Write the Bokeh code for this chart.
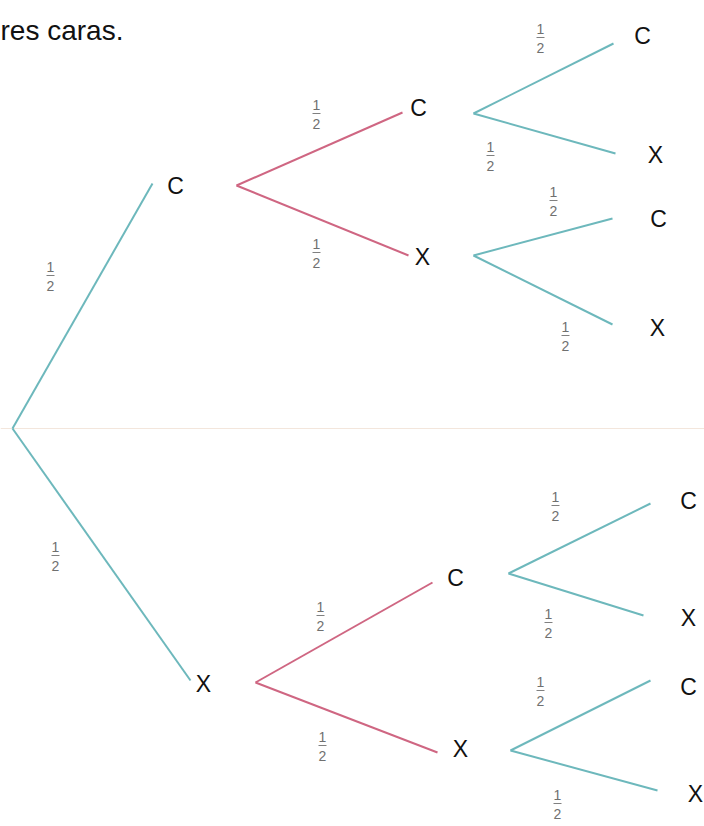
from bokeh.plotting import figure
from bokeh.models import ColumnDataSource, Range1d
from bokeh.core.properties import value
from bokeh.embed import file_html
from bokeh.resources import INLINE

# ---------------- data ----------------
title_text = "res caras."
outcomes = ["C", "X"]
# tree edges: parent path -> child path, probability numerator/denominator
edge_parent = ["", "",
               "C", "C", "X", "X",
               "CC", "CC", "CX", "CX", "XC", "XC", "XX", "XX"]
edge_child = ["C", "X",
              "CC", "CX", "XC", "XX",
              "CCC", "CCX", "CXC", "CXX", "XCC", "XCX", "XXC", "XXX"]
prob_num = [1, 1, 1, 1, 1, 1, 1, 1, 1, 1, 1, 1, 1, 1]
prob_den = [2, 2, 2, 2, 2, 2, 2, 2, 2, 2, 2, 2, 2, 2]

# ---------------- layout (screen-like coordinates) ----------------
label_pos = {
    "C": (175, 185), "X": (203, 683),
    "CC": (418, 107), "CX": (422, 256), "XC": (455, 577), "XX": (460, 748),
    "CCC": (642, 35), "CCX": (655, 154), "CXC": (658, 218), "CXX": (657, 327),
    "XCC": (688, 500), "XCX": (688, 617), "XXC": (688, 686), "XXX": (695, 793),
}
end_pos = {
    "C": (152, 183), "X": (190, 680),
    "CC": (402, 112), "CX": (408, 255), "XC": (432, 582), "XX": (437, 752),
    "CCC": (613, 43), "CCX": (615, 153), "CXC": (612, 218), "CXX": (612, 324),
    "XCC": (650, 503), "XCX": (643, 615), "XXC": (650, 680), "XXX": (657, 790),
}
start_pos = {
    "": (12, 428),
    "C": (236, 185), "X": (255, 682),
    "CC": (473, 113), "CX": (473, 255), "XC": (508, 573), "XX": (510, 750),
}
prob_pos = {
    "C": (50, 275), "X": (55, 555),
    "CC": (316, 113), "CX": (316, 252), "XC": (320, 615), "XX": (322, 745),
    "CCC": (540, 37), "CCX": (490, 155), "CXC": (553, 200), "CXX": (565, 335),
    "XCC": (555, 505), "XCX": (548, 622), "XXC": (540, 690), "XXX": (557, 803),
}

TEAL = "#6db8bc"
PINK = "#cf6682"

W, H = 704, 826
p = figure(width=W, height=H, output_backend="svg", toolbar_location=None,
           x_range=Range1d(0, W), y_range=Range1d(H, 0),
           min_border=0, outline_line_color=None, background_fill_color="white",
           border_fill_color="white")
p.axis.visible = False
p.grid.visible = False

# faint separator line
p.segment(x0=[0], y0=[428], x1=[704], y1=[428], line_color="#f3e6dc", line_width=1)

# branches
x0, y0, x1, y1, col = [], [], [], [], []
for par, ch in zip(edge_parent, edge_child):
    sx, sy = start_pos[par]
    ex, ey = end_pos[ch]
    x0.append(sx); y0.append(sy); x1.append(ex); y1.append(ey)
    col.append(PINK if len(ch) == 2 else TEAL)
p.segment(x0="x0", y0="y0", x1="x1", y1="y1", line_color="col", line_width=2,
          source=ColumnDataSource(dict(x0=x0, y0=y0, x1=x1, y1=y1, col=col)))

# node labels
lx = [label_pos[c][0] for c in edge_child]
ly = [label_pos[c][1] for c in edge_child]
lt = [c[-1] for c in edge_child]
p.text(x=lx, y=ly, text=lt, text_font=value("Liberation Sans"),
       text_font_size="23px", text_color="#111111",
       text_align="center", text_baseline="middle")

# probability fractions
px = [prob_pos[c][0] for c in edge_child]
py = [prob_pos[c][1] for c in edge_child]
p.text(x=px, y=[v - 9 for v in py], text=[str(n) for n in prob_num],
       text_font=value("Liberation Sans"), text_font_size="14px",
       text_color="#707070", text_align="center", text_baseline="middle")
p.text(x=px, y=[v + 10 for v in py], text=[str(d) for d in prob_den],
       text_font=value("Liberation Sans"), text_font_size="14px",
       text_color="#707070", text_align="center", text_baseline="middle")
p.segment(x0=[v - 4 for v in px], y0=py, x1=[v + 4 for v in px], y1=py,
          line_color="#808080", line_width=1)

# title fragment
p.text(x=[0], y=[30], text=[title_text], text_font=value("Liberation Sans"),
       text_font_size="28px", text_color="#111111",
       text_align="left", text_baseline="middle")

open("out.html", "w").write(file_html(p, INLINE))
